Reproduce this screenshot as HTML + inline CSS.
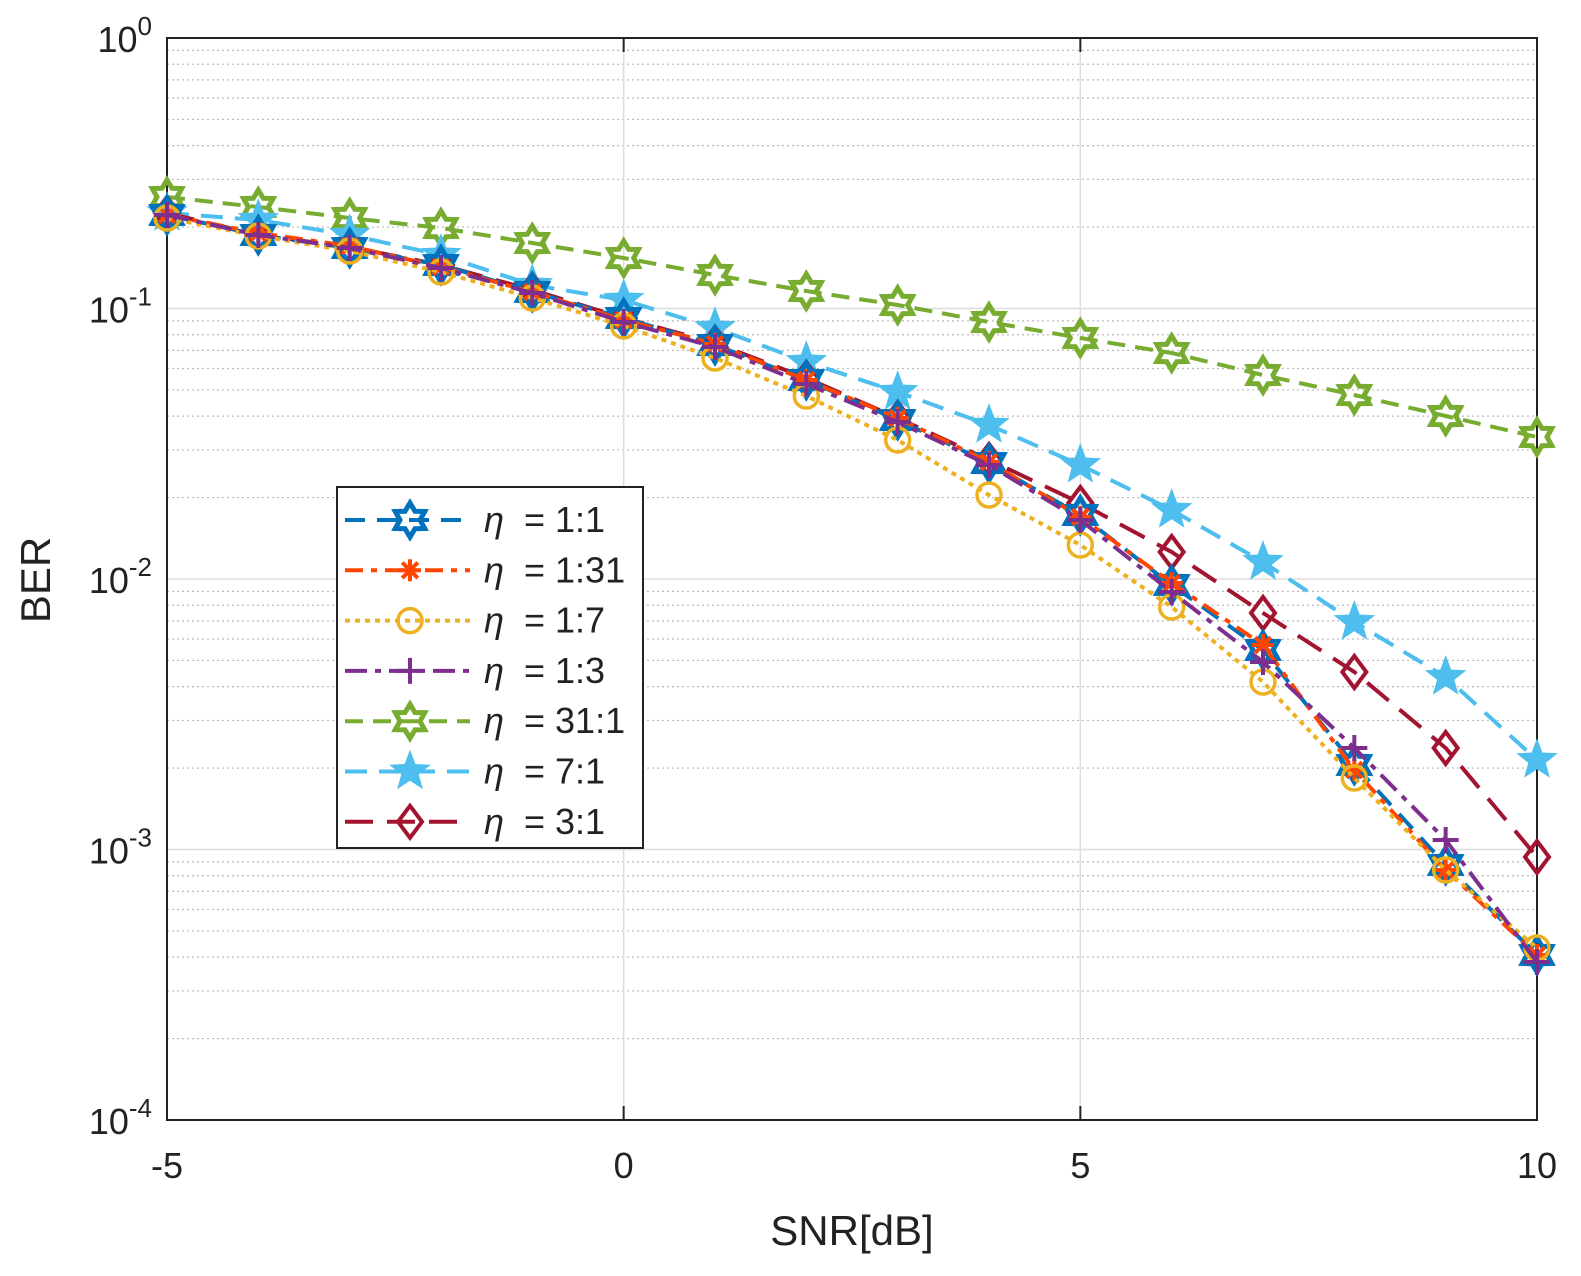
<!DOCTYPE html>
<html><head><meta charset="utf-8"><style>body{margin:0;background:#fff;overflow:hidden}svg{display:block}text{font-family:"Liberation Sans",sans-serif}</style></head>
<body>
<svg id="s" width="1581" height="1276" xmlns="http://www.w3.org/2000/svg"></svg>
<script>
const s=document.getElementById('s');let h='';
const X0=167,X1=1537,Y0=38,D=270.5;
const xp=v=>X0+(v+5)*(X1-X0)/15;
for(let d=0;d<4;d++){for(let m=2;m<=9;m++){let y=Y0+D*(d+1)-Math.log10(m)*D;h+=`<line x1="${X0}" x2="${X1}" y1="${y}" y2="${y}" stroke="#bbb" stroke-width="1.2" stroke-dasharray="2,3"/>`;}}
for(let d=1;d<4;d++){let y=Y0+D*d;h+=`<line x1="${X0}" x2="${X1}" y1="${y}" y2="${y}" stroke="#ddd" stroke-width="1.5"/>`;}
[0,5].forEach(v=>h+=`<line x1="${xp(v)}" x2="${xp(v)}" y1="${Y0}" y2="1120" stroke="#ddd" stroke-width="1.5"/>`);
h+=`<rect x="${X0}" y="${Y0}" width="${X1-X0}" height="${1120-Y0}" fill="none" stroke="#222" stroke-width="2"/>`;
[-5,0,5,10].forEach(v=>{h+=`<line x1="${xp(v)}" x2="${xp(v)}" y1="1120" y2="1106" stroke="#222" stroke-width="2"/><line x1="${xp(v)}" x2="${xp(v)}" y1="38" y2="52" stroke="#222" stroke-width="2"/><text x="${xp(v)}" y="1178" font-size="36" text-anchor="middle" fill="#222">${v}</text>`;});
for(let d=0;d<=4;d++){let y=Y0+D*d;h+=`<text x="152" y="${y+14}" font-size="36" text-anchor="end" fill="#222">10<tspan dy="-17" font-size="26">${d==0?'0':'-'+d}</tspan></text>`;}
h+=`<text x="852" y="1245" font-size="42" text-anchor="middle" fill="#222">SNR[dB]</text>`;
h+=`<text transform="translate(50,580) rotate(-90)" font-size="42" text-anchor="middle" fill="#222">BER</text>`;
function star(n,r,ri,cx,cy){let p=[];for(let i=0;i<2*n;i++){let a=-Math.PI/2+i*Math.PI/n,rr=i%2?ri:r;p.push((cx+rr*Math.cos(a)).toFixed(1)+','+(cy+rr*Math.sin(a)).toFixed(1));}return p.join(' ');}
function mk(t,c,x,y){switch(t){
case'hex':return `<polygon points="${star(6,17,10,x,y)}" fill="none" stroke="${c}" stroke-width="5"/>`;
case'ast':return [0,45,90,135].map(a=>`<line x1="${x-11*Math.cos(a*Math.PI/180)}" y1="${y-11*Math.sin(a*Math.PI/180)}" x2="${x+11*Math.cos(a*Math.PI/180)}" y2="${y+11*Math.sin(a*Math.PI/180)}" stroke="${c}" stroke-width="4"/>`).join('');
case'o':return `<circle cx="${x}" cy="${y}" r="12" fill="none" stroke="${c}" stroke-width="3.5"/>`;
case'+':return `<path d="M${x-13} ${y}H${x+13}M${x} ${y-13}V${y+13}" stroke="${c}" stroke-width="4"/>`;
case'st':return `<polygon points="${star(5,19,8,x,y)}" fill="${c}" stroke="${c}" stroke-width="2"/>`;
case'd':return `<polygon points="${x},${y-16} ${x+12},${y} ${x},${y+16} ${x-12},${y}" fill="none" stroke="${c}" stroke-width="4"/>`;}}
const S=[
['#77AC30','hex','18,10',[197,207,218,228,243,258,275,291,305,322,338,353,375,395,416,437],'31:1'],
['#4DBEEE','st','22,12',[213,220,235,255,285,300,328,362,392,425,465,510,562,622,677,760],'7:1'],
['#A2142F','d','28,14',[213,235,247,265,290,318,343,378,418,460,503,552,613,672,748,857],'3:1'],
['#0072BD','hex','20,12',[215,235,248,265,292,318,345,380,420,463,515,585,650,765,865,955],'1:1'],
['#FF4500','ast','18,8,6,8',[215,233,246,267,292,320,344,380,418,462,517,583,645,770,870,955],'1:31'],
['#EDB120','o','5,5',[218,236,251,272,298,326,358,396,440,495,545,607,682,778,870,948],'1:7'],
['#7E2F8E','+','22,8,6,8',[215,235,248,268,293,322,347,384,422,465,520,592,662,748,840,962],'1:3']];
S.forEach(([c,m,da,ys])=>{h+=`<polyline points="${ys.map((y,i)=>xp(i-5)+','+y).join(' ')}" fill="none" stroke="${c}" stroke-width="4" stroke-dasharray="${da}"/>`;ys.forEach((y,i)=>h+=mk(m,c,xp(i-5),y));});
h+=`<rect x="337" y="487" width="306" height="361" fill="#fff" stroke="#222" stroke-width="2"/>`;
const order=[3,4,5,6,0,1,2];
order.forEach((k,i)=>{const [c,m,da,,lab]=S[k];let y=520+i*50.3;h+=`<line x1="345" x2="470" y1="${y}" y2="${y}" stroke="${c}" stroke-width="4" stroke-dasharray="${da}"/>`+mk(m,c,410,y)+`<text x="484" y="${y+12}" font-size="36" font-style="italic" font-family="Liberation Serif" fill="#222">η</text><text x="524" y="${y+12}" font-size="36" fill="#222">= ${lab}</text>`;});
s.innerHTML=h;
</script>
</body></html>
